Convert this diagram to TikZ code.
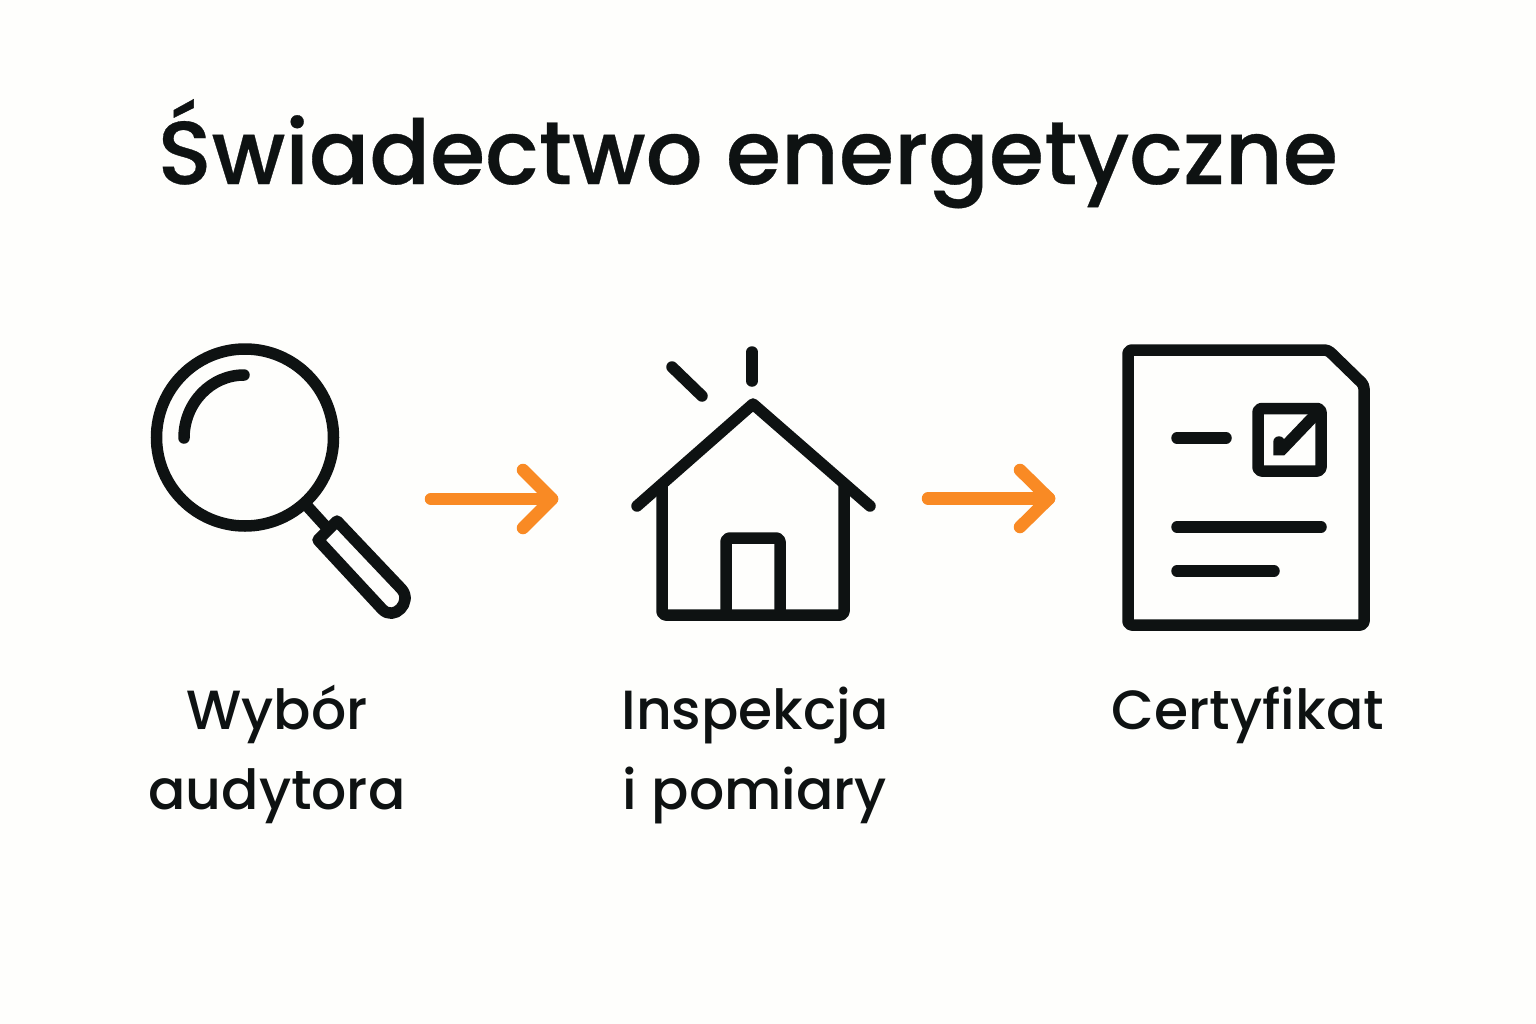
\documentclass[tikz,border=0pt]{standalone}
\usepackage{fontspec}
\setmainfont{Poppins Medium}
\newfontfamily\headingfont[FakeBold=0.35]{Poppins Medium}
\usetikzlibrary{positioning}
\definecolor{inkblack}{HTML}{0E1212}
\definecolor{arroworange}{HTML}{F98A24}
\definecolor{paperwhite}{HTML}{FEFEFC}

\begin{document}
\begin{tikzpicture}[
	x = 0.01cm,
	y = -0.01cm,
	icon/.style = {
		draw = inkblack,
		line width = 0.115cm,
		line cap = round,
		line join = round
	},
	flow/.style = {
		draw = arroworange,
		line width = 0.125cm,
		line cap = round,
		line join = round
	},
	title/.style = {
		text = inkblack,
		font = \headingfont\fontsize{25.4}{30}\selectfont,
		inner sep = 0pt
	},
	caption/.style = {
		text = inkblack,
		font = \fontsize{15.7}{22.7}\selectfont,
		align = center,
		inner sep = 0pt,
		anchor = base
	}
	]
	\fill[paperwhite] (0,0) rectangle (1536,1024);
	\useasboundingbox (0,0) rectangle (1536,1024);
	\node[title, anchor = base west] (heading) at (157,184) {Świadectwo energetyczne};

	% magnifier
	\draw[icon] (245,437.5) circle (88.5);
	\draw[icon] (184,438) arc (180:270:60 and 63);
	\draw[icon] (308,507) -- (328,529);
	\draw[icon] (337,521) -- (401.5,589) .. controls (413,602) and (394,622) .. (382,609) -- (318,540) -- cycle;

	% house
	\draw[icon] (637,506) -- (753,404) -- (870,506);
	\draw[icon, rounded corners = 1pt] (662,485) -- (662,615) -- (844,615) -- (844,485);
	\draw[icon, rounded corners = 1pt] (726,615) -- (726,538) -- (780,538) -- (780,615);
	\draw[icon] (672,367) -- (702,396);
	\draw[icon] (752,352) -- (752,381);

	% certificate
	\draw[icon, rounded corners = 1pt] (1128,350) -- (1328,350) -- (1364,385) -- (1364,625) -- (1128,625) -- cycle;
	\draw[icon] (1177,438) -- (1226,438);
	\draw[icon, rounded corners = 1pt] (1258,408.5) rectangle (1321,471);
	\draw[icon, line join = miter] (1279,442) -- (1279,449.5) -- (1282,449.5) -- (1315,415);
	\draw[icon] (1177,527) -- (1321,527);
	\draw[icon] (1177,571) -- (1274,571);

	% arrows
	\coordinate (arrowa) at (431,499);
	\coordinate (arrowb) at (552,499);
	\coordinate (arrowc) at (928,498.5);
	\coordinate (arrowd) at (1049,498.5);
	\draw[flow] (arrowa) -- (arrowb);
	\draw[flow] (523,470) -- (arrowb) -- (523,528);
	\draw[flow] (arrowc) -- (arrowd);
	\draw[flow] (1020,470) -- (arrowd) -- (1020,527);

	\node[caption] (auditor) at (277,809) {Wybór\\audytora};
	\node[caption] (survey) at (755,809) {Inspekcja\\i pomiary};
	\node[caption] (cert) at (1248,729) {Certyfikat};
\end{tikzpicture}
\end{document}
